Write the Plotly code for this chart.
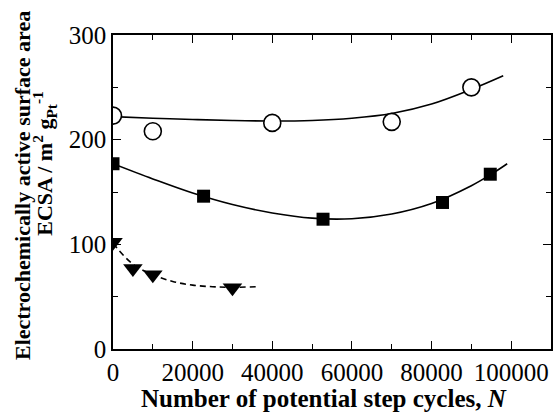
import plotly.graph_objects as go

# Measured ECSA values (m^2 g_Pt^-1) vs. number of potential step cycles
circle_n = [0, 10000, 40000, 70000, 90000]
circle_ecsa = [223, 208, 216, 217, 250]

square_n = [0, 22750, 52750, 82750, 94750]
square_ecsa = [177, 146, 124, 140, 167]

tri_n = [0, 5000, 10000, 30000]
tri_ecsa = [102, 77, 71, 58.6]

# Trend curves drawn through each data set
circle_fit_n = [0, 10000, 20000, 30000, 40000, 50000, 60000, 70000, 80000, 90000, 98000]
circle_fit_ecsa = [222, 220.5, 219.3, 218.3, 217.8, 218.3, 220.5, 225, 234, 248, 261]

square_fit_n = [0, 10000, 20000, 30000, 40000, 50000, 60000, 70000, 80000, 90000, 95000, 99000]
square_fit_ecsa = [177, 162.5, 149, 138, 130, 125, 124.5, 129, 139, 156, 167, 177]

tri_fit_n = [0, 5000, 10000, 15000, 20000, 25000, 30000, 36500]
tri_fit_ecsa = [101, 81, 71, 64.5, 61, 59.5, 59, 59.5]

FONT = "Liberation Serif"
fig = go.Figure()

line_style = dict(color="black", width=1.6, shape="spline", smoothing=1.0)
fig.add_trace(go.Scatter(x=circle_fit_n, y=circle_fit_ecsa, mode="lines",
                         line=line_style, hoverinfo="skip"))
fig.add_trace(go.Scatter(x=square_fit_n, y=square_fit_ecsa, mode="lines",
                         line=line_style, hoverinfo="skip"))
fig.add_trace(go.Scatter(x=tri_fit_n, y=tri_fit_ecsa, mode="lines",
                         line=dict(color="black", width=1.6, dash="6px,4px",
                                   shape="spline", smoothing=1.0),
                         hoverinfo="skip"))

fig.add_trace(go.Scatter(x=circle_n, y=circle_ecsa, mode="markers",
                         marker=dict(symbol="circle", size=17, color="white",
                                     line=dict(color="black", width=1.6))))
fig.add_trace(go.Scatter(x=square_n, y=square_ecsa, mode="markers",
                         marker=dict(symbol="square", size=13, color="black",
                                     line=dict(color="black", width=0))))
fig.add_trace(go.Scatter(x=tri_n, y=tri_ecsa, mode="markers",
                         marker=dict(symbol="triangle-down", size=17, color="black",
                                     line=dict(color="black", width=0))))

axis_common = dict(
    showline=True, linecolor="black", linewidth=1.5, mirror="allticks",
    ticks="inside", ticklen=8, tickwidth=1.3, tickcolor="black",
    showgrid=False, zeroline=False,
    tickfont=dict(family=FONT, size=25, color="black"),
)

fig.update_layout(
    width=557, height=413,
    margin=dict(l=113, r=4, t=35, b=64),
    paper_bgcolor="white", plot_bgcolor="white",
    showlegend=False,
    xaxis=dict(range=[0, 110000], tickmode="array",
               tickvals=[0, 20000, 40000, 60000, 80000, 100000],
               ticktext=["0", "20000", "40000", "60000", "80000", "100000"],
               minor=dict(dtick=10000, tick0=0, ticks="inside", ticklen=5,
                          tickwidth=1.3, tickcolor="black"),
               **axis_common),
    yaxis=dict(range=[0, 300], dtick=100,
               minor=dict(dtick=50, tick0=0, ticks="inside", ticklen=5,
                          tickwidth=1.3, tickcolor="black"),
               **axis_common),
)

# Axis titles
fig.add_annotation(
    text="<b>Number of potential step cycles, <i>N</i></b>",
    xref="paper", yref="paper", x=0.482, y=0, yshift=-49,
    xanchor="center", yanchor="middle", showarrow=False,
    font=dict(family=FONT, size=25, color="black"),
)
fig.add_annotation(
    text="<b>Electrochemically active surface area</b>",
    xref="paper", yref="paper", x=0, xshift=-91, y=0.519,
    xanchor="center", yanchor="middle", showarrow=False, textangle=-90,
    font=dict(family=FONT, size=22, color="black"),
)
fig.add_annotation(
    text="<b>ECSA / m<sup>2</sup> g<sub>Pt</sub><sup>-1</sup></b>",
    xref="paper", yref="paper", x=0, xshift=-68, y=0.59,
    xanchor="center", yanchor="middle", showarrow=False, textangle=-90,
    font=dict(family=FONT, size=22, color="black"),
)

fig.write_html("out.html")
